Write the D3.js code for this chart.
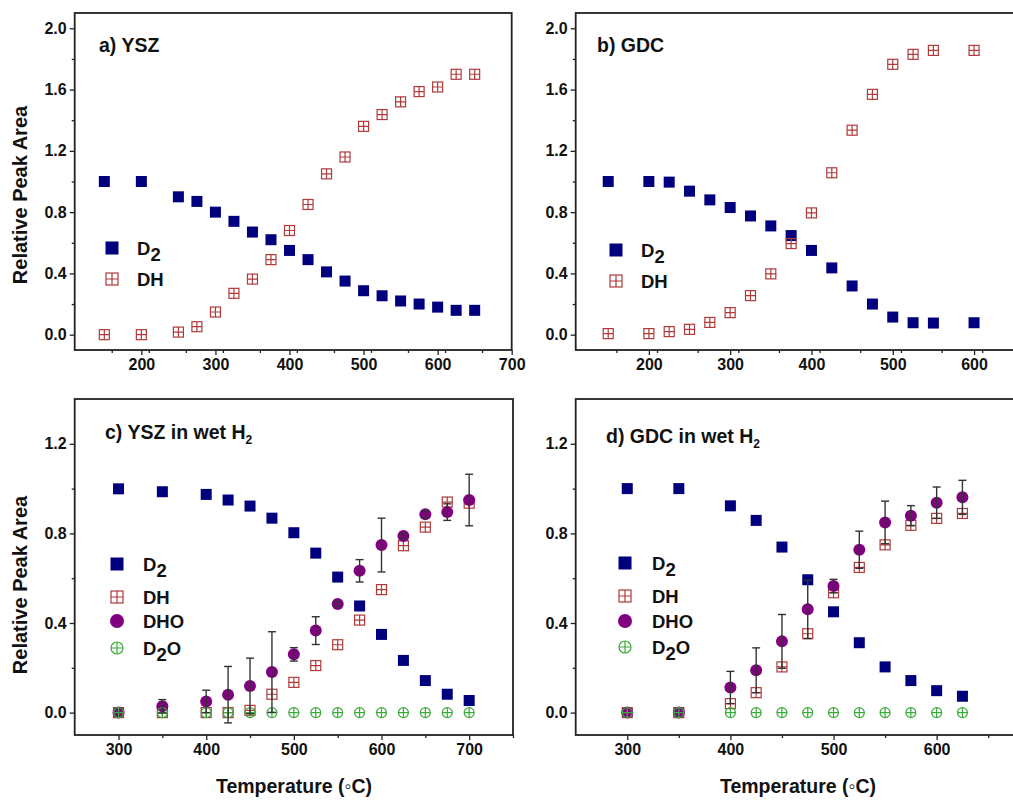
<!DOCTYPE html>
<html><head><meta charset="utf-8">
<script src="https://cdn.jsdelivr.net/npm/d3@7"></script>
<style>
body{margin:0;background:#fff;}
svg{font-family:"Liberation Sans",Arial,sans-serif;font-weight:bold;}
</style></head>
<body><svg id="c" width="1013" height="804"></svg>
<script>
// ---- data ----
const xA = [150,200,250,275,300,325,350,375,400,425,450,475,500,525,550,575,600,625,650];
const a_D2 = [1.0,1.0,0.90,0.87,0.80,0.74,0.67,0.62,0.55,0.49,0.41,0.35,0.287,0.254,0.22,0.20,0.18,0.159,0.159];
const a_DH = [0.0,0.0,0.017,0.052,0.148,0.27,0.363,0.49,0.68,0.85,1.05,1.16,1.36,1.437,1.52,1.587,1.617,1.70,1.70];

const xB = [150,200,225,250,275,300,325,350,375,400,425,450,475,500,525,550,600];
const b_D2 = [1.0,1.0,0.996,0.937,0.88,0.83,0.775,0.71,0.647,0.55,0.436,0.318,0.20,0.115,0.078,0.076,0.078];
const b_DH = [0.007,0.007,0.02,0.035,0.08,0.144,0.255,0.397,0.595,0.795,1.057,1.335,1.569,1.765,1.83,1.856,1.856];

const xC = [300,350,400,425,450,475,500,525,550,575,600,625,650,675,700];
const c_D2  = [0.999,0.986,0.974,0.949,0.922,0.868,0.803,0.712,0.605,0.476,0.349,0.233,0.143,0.082,0.054];
const c_DH  = [0,0,0,0,0.01,0.082,0.135,0.21,0.303,0.413,0.549,0.745,0.828,0.94,0.935];
const c_DHO = [0,0.028,0.05,0.08,0.119,0.181,0.26,0.366,0.485,0.633,0.748,0.788,0.885,0.895,0.949];
const c_err = [0,0.03,0.05,0.126,0.124,0.18,0.03,0.062,0.01,0.05,0.12,0.01,0.015,0.037,0.115];
const c_D2O = [0,0,0,0,0,0,0,0,0,0,0,0,0,0,0];

const xD = [300,350,400,425,450,475,500,525,550,575,600,625];
const d_D2  = [1.0,1.0,0.923,0.858,0.739,0.593,0.45,0.312,0.204,0.143,0.098,0.073];
const d_DH  = [0,0,0.04,0.089,0.204,0.352,0.535,0.648,0.749,0.836,0.867,0.889];
const d_DHO = [0,0,0.112,0.189,0.318,0.461,0.565,0.727,0.849,0.879,0.937,0.961];
const d_err = [0,0,0.072,0.1,0.12,0.13,0.03,0.083,0.095,0.045,0.07,0.076];
const d_D2O = [0,0,0,0,0,0,0,0,0,0,0,0];

const ticksTopX_a = [200,300,400,500,600,700];
const ticksTopX_b = [200,300,400,500,600];
const ticksBotX_c = [300,400,500,600,700];
const ticksBotX_d = [300,400,500,600];
const ticksY_top = [0,0.4,0.8,1.2,1.6,2.0];
const ticksY_bot = [0,0.4,0.8,1.2];

const C_D2="#00007f", C_DH="#b03a3a", C_DHO="#800080", C_D2O="#3aaa3a";

const svg = d3.select("#c");

function marker(g, type, x, y, s){
  if(type==="D2"){
    g.append("rect").attr("x",x-s/2).attr("y",y-s/2).attr("width",s).attr("height",s).attr("fill",C_D2);
  } else if(type==="DH"){
    const h=s/2-0.5;
    g.append("rect").attr("x",x-h).attr("y",y-h).attr("width",2*h).attr("height",2*h).attr("fill","none").attr("stroke",C_DH).attr("stroke-width",1.2);
    g.append("path").attr("d",`M${x-h},${y}H${x+h}M${x},${y-h}V${y+h}`).attr("stroke",C_DH).attr("stroke-width",1.2);
  } else if(type==="DHO"){
    g.append("circle").attr("cx",x).attr("cy",y).attr("r",s/2).attr("fill",C_DHO);
  } else if(type==="D2O"){
    const r=s/2-0.5;
    g.append("circle").attr("cx",x).attr("cy",y).attr("r",r).attr("fill","none").attr("stroke",C_D2O).attr("stroke-width",1.2);
    g.append("path").attr("d",`M${x-r},${y}H${x+r}M${x},${y-r}V${y+r}`).attr("stroke",C_D2O).attr("stroke-width",1.2);
  }
}

function panel(cfg){
  const x = d3.scaleLinear().domain(cfg.xd).range([cfg.l, cfg.r]);
  const y = d3.scaleLinear().domain(cfg.yd).range([cfg.b, cfg.t]);
  const g = svg.append("g");
  // x axis
  const xMinor = d3.range(cfg.xd[0], cfg.xd[1]+0.1, 50).filter(v=>v%100!==0 && v>cfg.xd[0]+1);
  g.append("g").attr("transform",`translate(0,${cfg.b})`)
    .call(d3.axisBottom(x).tickValues(xMinor).tickSize(3).tickFormat(""))
    .call(s=>s.select(".domain").remove()).selectAll("line").attr("stroke","#222").attr("stroke-width",1.3);
  const xa = g.append("g").attr("transform",`translate(0,${cfg.b})`)
    .call(d3.axisBottom(x).tickValues(cfg.xt).tickSize(5).tickPadding(4).tickFormat(d3.format("d")));
  xa.select(".domain").remove();
  xa.selectAll("line").attr("stroke","#222").attr("stroke-width",1.3);
  xa.selectAll("text").attr("font-size",16).attr("font-weight","bold").attr("fill","#111").attr("font-family","Liberation Sans, Arial");
  // y axis
  const yMinor = cfg.yt.slice(0,-1).map(v=>v+0.2);
  g.append("g").attr("transform",`translate(${cfg.l},0)`)
    .call(d3.axisLeft(y).tickValues(yMinor).tickSize(3).tickFormat(""))
    .call(s=>s.select(".domain").remove()).selectAll("line").attr("stroke","#222").attr("stroke-width",1.3);
  const ya = g.append("g").attr("transform",`translate(${cfg.l},0)`)
    .call(d3.axisLeft(y).tickValues(cfg.yt).tickSize(5).tickPadding(3).tickFormat(d3.format(".1f")));
  ya.select(".domain").remove();
  ya.selectAll("line").attr("stroke","#222").attr("stroke-width",1.3);
  ya.selectAll("text").attr("font-size",16).attr("font-weight","bold").attr("fill","#111").attr("font-family","Liberation Sans, Arial");
  // frame
  g.append("rect").attr("x",cfg.l).attr("y",cfg.t).attr("width",cfg.r-cfg.l).attr("height",cfg.b-cfg.t)
    .attr("fill","none").attr("stroke","#222").attr("stroke-width",1.8);
  // data
  const dg = g.append("g");
  cfg.series.forEach(s=>{
    s.vals.forEach((v,i)=>marker(dg, s.type, x(cfg.xs[i]), y(v), s.size));
  });
  if(cfg.err){
    const eg = g.append("g").attr("stroke","#333").attr("stroke-width",1.4);
    cfg.err.forEach((e,i)=>{
      if(e<=0) return;
      const cx=x(cfg.xs[i]), v=cfg.errBase[i];
      const y1=y(v+e), y2=y(v-e);
      eg.append("line").attr("x1",cx).attr("x2",cx).attr("y1",y1).attr("y2",y2);
      eg.append("line").attr("x1",cx-4).attr("x2",cx+4).attr("y1",y1).attr("y2",y1);
      eg.append("line").attr("x1",cx-4).attr("x2",cx+4).attr("y1",y2).attr("y2",y2);
    });
  }
  // title
  const t = g.append("text").attr("x",cfg.tx).attr("y",cfg.ty).attr("font-size",19.5).attr("fill","#111");
  t.append("tspan").text(cfg.title);
  if(cfg.titleSub){
    t.append("tspan").attr("font-size",12).attr("dy",5).text(cfg.titleSub);
  }
  // legend
  cfg.legend.forEach(L=>{
    marker(g, L.type, cfg.lx, L.y, L.size);
    const tt = g.append("text").attr("x",cfg.ltx).attr("y",L.y+7).attr("font-size",18.5).attr("fill","#111");
    if(L.type==="D2"){ tt.append("tspan").text("D"); tt.append("tspan").attr("dy",6).text("2"); }
    else if(L.type==="D2O"){ tt.append("tspan").text("D"); tt.append("tspan").attr("dy",6).text("2"); tt.append("tspan").attr("dy",-6).text("O"); }
    else tt.text(L.type);
  });
}

panel({xd:[110,700], l:74.7, r:511.7, yd:[-0.1,2.1], t:13, b:350, xt:ticksTopX_a, yt:ticksY_top, xs:xA,
  series:[{type:"D2",vals:a_D2,size:11},{type:"DH",vals:a_DH,size:11}],
  title:"a) YSZ", tx:99, ty:52, lx:112, ltx:137,
  legend:[{type:"D2",y:248,size:13},{type:"DH",y:279,size:13}]});

panel({xd:[110,650], l:575.7, r:1014.7, yd:[-0.1,2.1], t:13, b:350, xt:ticksTopX_b, yt:ticksY_top, xs:xB,
  series:[{type:"D2",vals:b_D2,size:11},{type:"DH",vals:b_DH,size:11}],
  title:"b) GDC", tx:597, ty:52, lx:616, ltx:641,
  legend:[{type:"D2",y:250,size:13},{type:"DH",y:281,size:13}]});

panel({xd:[250,750], l:74.7, r:513, yd:[-0.1,1.4], t:399, b:735, xt:ticksBotX_c, yt:ticksY_bot, xs:xC,
  series:[{type:"D2",vals:c_D2,size:11},{type:"DH",vals:c_DH,size:11},{type:"DHO",vals:c_DHO,size:12},{type:"D2O",vals:c_D2O,size:11}],
  err:c_err, errBase:c_DHO,
  title:"c) YSZ in wet H", titleSub:"2", tx:105, ty:439, lx:117, ltx:143,
  legend:[{type:"D2",y:564,size:13},{type:"DH",y:597,size:13},{type:"DHO",y:621,size:14},{type:"D2O",y:648,size:13}]});

panel({xd:[250,675], l:575.7, r:1014, yd:[-0.1,1.4], t:399, b:735, xt:ticksBotX_d, yt:ticksY_bot, xs:xD,
  series:[{type:"D2",vals:d_D2,size:11},{type:"DH",vals:d_DH,size:11},{type:"DHO",vals:d_DHO,size:12},{type:"D2O",vals:d_D2O,size:11}],
  err:d_err, errBase:d_DHO,
  title:"d) GDC in wet H", titleSub:"2", tx:606, ty:443, lx:625, ltx:652,
  legend:[{type:"D2",y:563,size:13},{type:"DH",y:596,size:13},{type:"DHO",y:621,size:14},{type:"D2O",y:647,size:13}]});

// axis labels
[195,585].forEach(cy=>{
  svg.append("text").attr("transform",`translate(27,${cy}) rotate(-90)`).attr("text-anchor","middle")
    .attr("font-size",20).attr("fill","#111").text("Relative Peak Area");
});
[294,798].forEach(cx=>{
  svg.append("text").attr("x",cx).attr("y",793).attr("text-anchor","middle")
    .attr("font-size",19.5).attr("fill","#111").text("Temperature (\u25E6C)");
});
</script></body></html>
